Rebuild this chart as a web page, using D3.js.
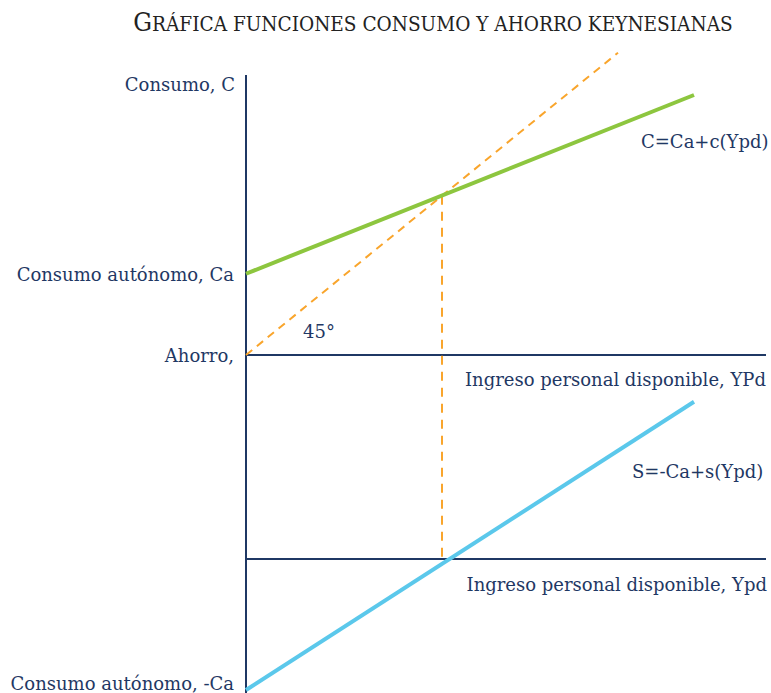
<!DOCTYPE html>
<html lang="es">
<head>
    <meta charset="UTF-8">
    <title>Consumo y ahorro</title>
    <script src="https://d3js.org/d3.v7.min.js"></script>
</head>
<style>
    html, body {
        margin: 0;
        padding: 0;
        background: #fff;
    }
    text {
        font-family: "DejaVu Serif", serif;
        fill: #1f3864;
    }
</style>
<body>
<svg id="chart"></svg>

<script>
    // data (abstract units)
    var consumo = [[0, 25], [112, 80]]      // C = Ca + c(Ypd)
    var ahorro = [[0, -25], [112, 30]]      // S = -Ca + s(Ypd)
    var linea45 = [[0, 0], [93, 93]]        // 45 degree line
    var equilibrio = 49                     // Ypd where C = Ypd, S = 0
    var xMax = 130

    var width = 771, height = 693

    var colorAxis = '#1f3864'
    var colorC = '#8dc63f'
    var colorS = '#5bc8eb'
    var colorDash = '#f9a52c'

    var svg = d3.select('#chart').attr('width', width).attr('height', height)

    // scales: one x, two y (upper panel consumption, lower panel saving)
    var x = d3.scaleLinear().domain([0, xMax]).range([246, 766])
    var yC = d3.scaleLinear().domain([0, 100]).range([355, 30])
    var yS = d3.scaleLinear().domain([-25, 0]).range([690, 559])

    var lineC = d3.line().x(function (d) { return x(d[0]) }).y(function (d) { return yC(d[1]) })
    var lineS = d3.line().x(function (d) { return x(d[0]) }).y(function (d) { return yS(d[1]) })

    // title, small caps done by hand, squeezed to 600px wide
    var titleG = svg.append('g')
    var title = titleG.append('text')
        .attr('x', 0).attr('y', 0)
        .attr('text-anchor', 'middle')
        .style('fill', '#222')
    title.append('tspan').style('font-size', '26px').text('G')
    title.append('tspan').style('font-size', '20.5px').text('RÁFICA FUNCIONES CONSUMO Y AHORRO KEYNESIANAS')
    var tw = title.node().getComputedTextLength()
    titleG.attr('transform', 'translate(433,31) scale(' + Math.min(1, 600 / tw) + ',1)')

    // axes
    svg.append('line')
        .attr('x1', x(0)).attr('x2', x(0))
        .attr('y1', 75).attr('y2', height)
        .attr('stroke', colorAxis).attr('stroke-width', 2)
    svg.append('line')
        .attr('x1', x(0)).attr('x2', x(xMax))
        .attr('y1', yC(0)).attr('y2', yC(0))
        .attr('stroke', colorAxis).attr('stroke-width', 2)
    svg.append('line')
        .attr('x1', x(0)).attr('x2', x(xMax))
        .attr('y1', yS(0)).attr('y2', yS(0))
        .attr('stroke', colorAxis).attr('stroke-width', 2)

    // dashed guides
    svg.append('path')
        .attr('d', lineC(linea45))
        .attr('fill', 'none').attr('stroke', colorDash)
        .attr('stroke-width', 2).attr('stroke-dasharray', '8,6')
    svg.append('line')
        .attr('x1', x(equilibrio)).attr('x2', x(equilibrio))
        .attr('y1', yC(equilibrio)).attr('y2', yS(0))
        .attr('stroke', colorDash)
        .attr('stroke-width', 2).attr('stroke-dasharray', '9,7')

    // functions
    svg.append('path')
        .attr('d', lineC(consumo))
        .attr('fill', 'none').attr('stroke', colorC).attr('stroke-width', 4)
    svg.append('path')
        .attr('d', lineS(ahorro))
        .attr('fill', 'none').attr('stroke', colorS).attr('stroke-width', 4)

    // labels
    var labels = [
        {t: 'Consumo, C', x: 235, y: 91, a: 'end'},
        {t: 'Consumo autónomo, Ca', x: 234, y: 281, a: 'end'},
        {t: 'Ahorro,', x: 234, y: 362, a: 'end'},
        {t: '45°', x: 303, y: 338, a: 'start'},
        {t: 'C=Ca+c(Ypd)', x: 641, y: 148, a: 'start'},
        {t: 'Ingreso personal disponible, YPd', x: 766, y: 386, a: 'end'},
        {t: 'S=-Ca+s(Ypd)', x: 632, y: 478, a: 'start'},
        {t: 'Ingreso personal disponible, Ypd', x: 767, y: 591, a: 'end'},
        {t: 'Consumo autónomo, -Ca', x: 234, y: 690, a: 'end'}
    ]
    svg.selectAll('.lbl').data(labels).enter().append('text')
        .attr('class', 'lbl')
        .attr('x', function (d) { return d.x })
        .attr('y', function (d) { return d.y })
        .attr('text-anchor', function (d) { return d.a })
        .style('font-size', '18px')
        .text(function (d) { return d.t })
</script>
</body>
</html>
